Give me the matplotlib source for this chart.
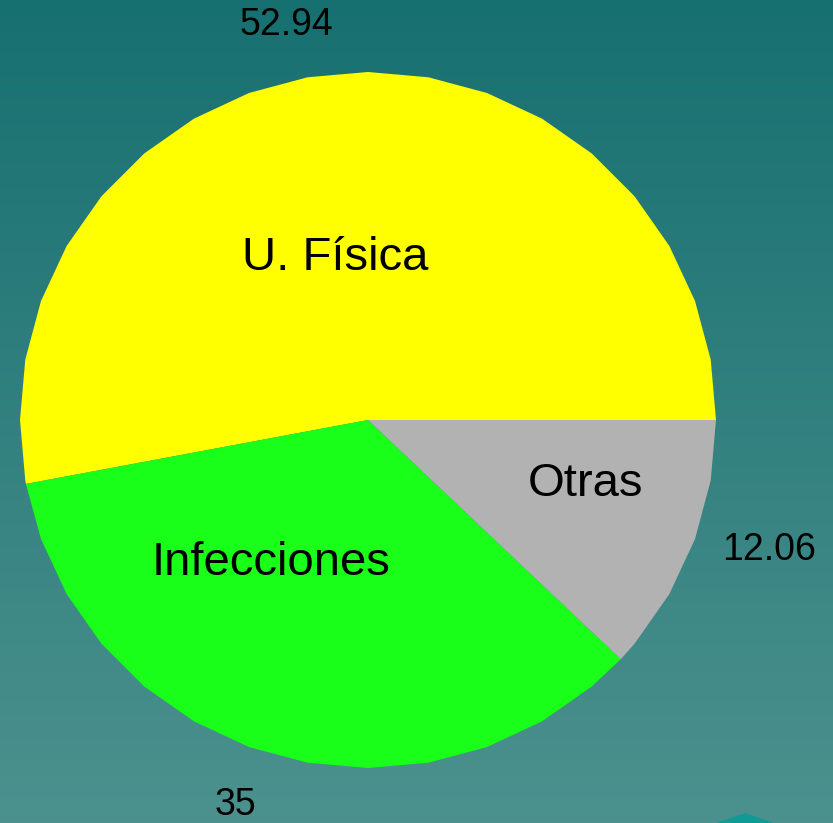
import numpy as np
import matplotlib.pyplot as plt
from matplotlib.colors import LinearSegmentedColormap

# datos
categorias = ['U. Física', 'Infecciones', 'Otras']
valores = [52.94, 35, 12.06]
etiquetas_valor = ['52.94', '35', '12.06']
colores = ['#ffff00', '#19ff19', '#b2b2b2']

# geometria (pixeles)
cx, cy, R = 368, 420, 348
ang_valor = [101.7, 251.0, 342.0]
rad_valor = [403, 407, 422]
ang_cat = [101.5, 235.8, 343.6]
rad_cat = [165, 173, 227]

fig = plt.figure(figsize=(8.33, 8.23), dpi=100)
ax = fig.add_axes([0, 0, 1, 1])
ax.set_xlim(0, 833)
ax.set_ylim(823, 0)
ax.axis('off')

# fondo degradado
cmap = LinearSegmentedColormap.from_list('fondo', ['#177070', '#4c918e'])
grad = np.linspace(0, 1, 256).reshape(-1, 1)
ax.imshow(grad, cmap=cmap, extent=[0, 833, 823, 0], aspect='auto', zorder=0)

# adorno abajo a la derecha
ax.fill([718, 745, 772], [823, 814, 823], color='#0f9a96', zorder=1)


def punto(ang, r):
    a = np.radians(ang)
    return cx + r * np.cos(a), cy - r * np.sin(a)


# pastel poligonal (facetas cada 10 grados)
total = sum(valores)
inicio = 0.0
for val, col in zip(valores, colores):
    fin = inicio + 360 * val / total
    angs = [inicio] + [a for a in range(0, 361, 10) if inicio < a < fin] + [fin]
    xs = [cx] + [punto(a, R)[0] for a in angs]
    ys = [cy] + [punto(a, R)[1] for a in angs]
    ax.fill(xs, ys, color=col, lw=0, zorder=2)
    inicio = fin

for txt, a, r in zip(etiquetas_valor, ang_valor, rad_valor):
    x, y = punto(a, r)
    ax.text(x, y, txt, ha='center', va='center', fontsize=27,
            family='Liberation Sans', color='black', zorder=3)

for txt, a, r in zip(categorias, ang_cat, rad_cat):
    x, y = punto(a, r)
    ax.text(x, y, txt, ha='center', va='center', fontsize=34,
            family='Liberation Sans', color='black', zorder=3)

fig.savefig('out.png', dpi=100)
